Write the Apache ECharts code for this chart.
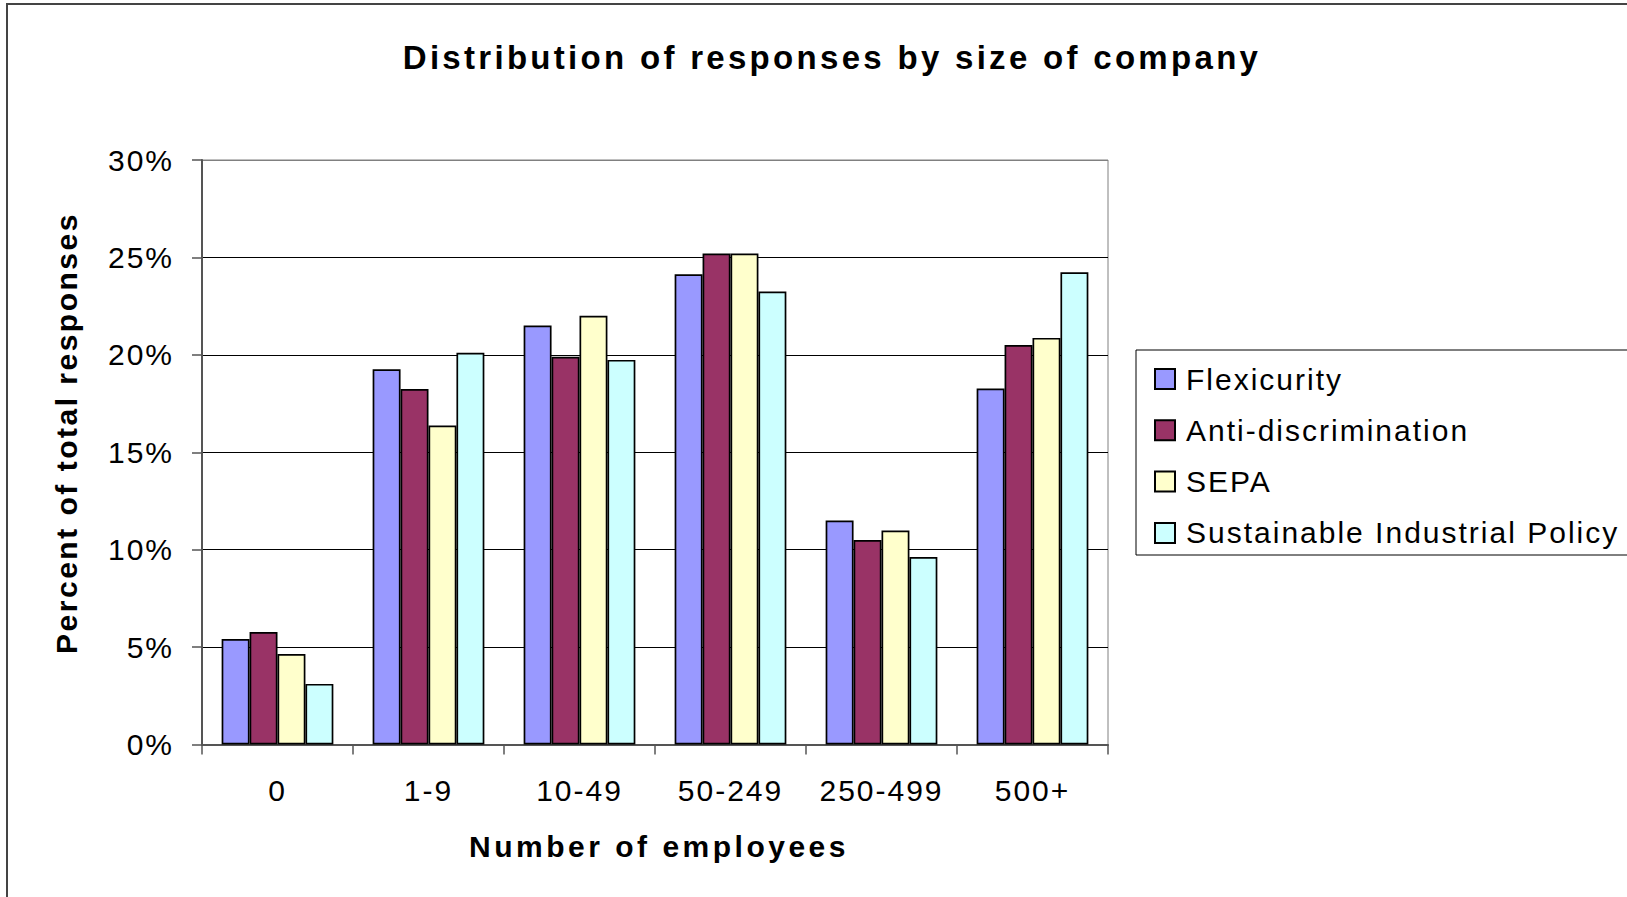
<!DOCTYPE html>
<html>
<head>
<meta charset="utf-8">
<script src="https://cdn.jsdelivr.net/npm/echarts@6/dist/echarts.min.js"></script>
<style>
html,body{margin:0;padding:0;background:#fff;}
#chart{width:1627px;height:897px;}
</style>
</head>
<body>
<div id="chart"></div>
<script>
const categories = ['0', '1-9', '10-49', '50-249', '250-499', '500+'];
const seriesNames = ['Flexicurity', 'Anti-discrimination', 'SEPA', 'Sustainable Industrial Policy'];
const flexicurity = [5.41, 19.26, 21.5, 24.13, 11.5, 18.27];
const antiDiscrimination = [5.77, 18.24, 19.9, 25.2, 10.5, 20.5];
const sepa = [4.64, 16.37, 22.0, 25.2, 10.98, 20.87];
const sustainableIndustrialPolicy = [3.11, 20.11, 19.74, 23.25, 9.62, 24.24];
const colors = ['#9999FF', '#993366', '#FFFFCC', '#CCFFFF'];
const titleText = 'Distribution of responses by size of company';
const xTitle = 'Number of employees';
const yTitle = 'Percent of total responses';

const FONT = '"Liberation Sans", Arial, sans-serif';
const chart = echarts.init(document.getElementById('chart'), null, { renderer: 'svg' });
const dataSets = [flexicurity, antiDiscrimination, sepa, sustainableIndustrialPolicy];

const option = {
  animation: false,
  backgroundColor: '#fff',
  textStyle: { fontFamily: FONT },
  graphic: [
    { type: 'rect', z: -10, shape: { x: 7, y: 4, width: 1700, height: 1000 },
      style: { fill: '#fff', stroke: '#444', lineWidth: 2 } },
    { type: 'rect', z: -5, shape: { x: 1136, y: 350, width: 600, height: 205 },
      style: { fill: '#fff', stroke: '#000', lineWidth: 1 } },
    { type: 'text', x: 832, y: 57, style: { text: titleText, font: 'bold 33px ' + FONT, fill: '#000', textAlign: 'center', textVerticalAlign: 'middle' } },
    { type: 'text', x: 659, y: 846, style: { text: xTitle, font: 'bold 30px ' + FONT, fill: '#000', textAlign: 'center', textVerticalAlign: 'middle' } },
    { type: 'text', x: 66, y: 433, rotation: Math.PI / 2, style: { text: yTitle, font: 'bold 30px ' + FONT, fill: '#000', textAlign: 'center', textVerticalAlign: 'middle' } }
  ],
  legend: {
    orient: 'vertical',
    left: 1149,
    top: 359,
    itemWidth: 20,
    itemHeight: 20,
    itemGap: 21.3,
    icon: 'rect',
    data: seriesNames,
    textStyle: { fontFamily: FONT, fontSize: 30, color: '#000', lineHeight: 30, padding: [0, 0, 0, 6] }
  },
  grid: {
    left: 202, right: 519, top: 160, bottom: 152.5,
    show: true, borderColor: '#808080', borderWidth: 1, backgroundColor: 'transparent'
  },
  xAxis: {
    type: 'category',
    data: categories,
    axisLine: { lineStyle: { color: '#555', width: 2 } },
    axisTick: { show: true, length: 10, lineStyle: { color: '#555', width: 1.5 } },
    axisLabel: { fontFamily: FONT, fontSize: 30, color: '#000', margin: 31 },
    splitLine: { show: false }
  },
  yAxis: {
    type: 'value',
    min: 0, max: 30, interval: 5,
    axisLine: { show: true, lineStyle: { color: '#555', width: 2 } },
    axisTick: { show: true, length: 10, lineStyle: { color: '#555', width: 1.5 } },
    axisLabel: { fontFamily: FONT, fontSize: 30, color: '#000', margin: 28, formatter: '{value}%' },
    splitLine: { show: true, lineStyle: { color: ['#000', '#000', '#000', '#000', '#000', '#000', '#808080'], width: 1 } }
  },
  series: seriesNames.map((name, i) => ({
    name: name,
    type: 'bar',
    data: dataSets[i],
    barGap: '0%',
    barCategoryGap: '26%',
    itemStyle: { color: colors[i], borderColor: '#000', borderWidth: 1.7 }
  }))
};
chart.setOption(option);

function spacingFor(txt) {
  if (txt === titleText) return 3.3;
  if (txt === xTitle) return 3.5;
  if (txt === yTitle) return 2.5;
  if (seriesNames.indexOf(txt) >= 0) return 2;
  if (categories.indexOf(txt) >= 0 || /%$/.test(txt)) return 2;
  return 0;
}
function applySpacing() {
  document.querySelectorAll('#chart svg text').forEach(function (t) {
    const s = spacingFor(t.textContent.trim());
    if (s) {
      t.setAttribute('letter-spacing', s + 'px');
      t.style.letterSpacing = s + 'px';
    }
  });
}
applySpacing();
chart.on('finished', applySpacing);
setTimeout(applySpacing, 0);
setTimeout(applySpacing, 100);
setTimeout(applySpacing, 400);
</script>
</body>
</html>
